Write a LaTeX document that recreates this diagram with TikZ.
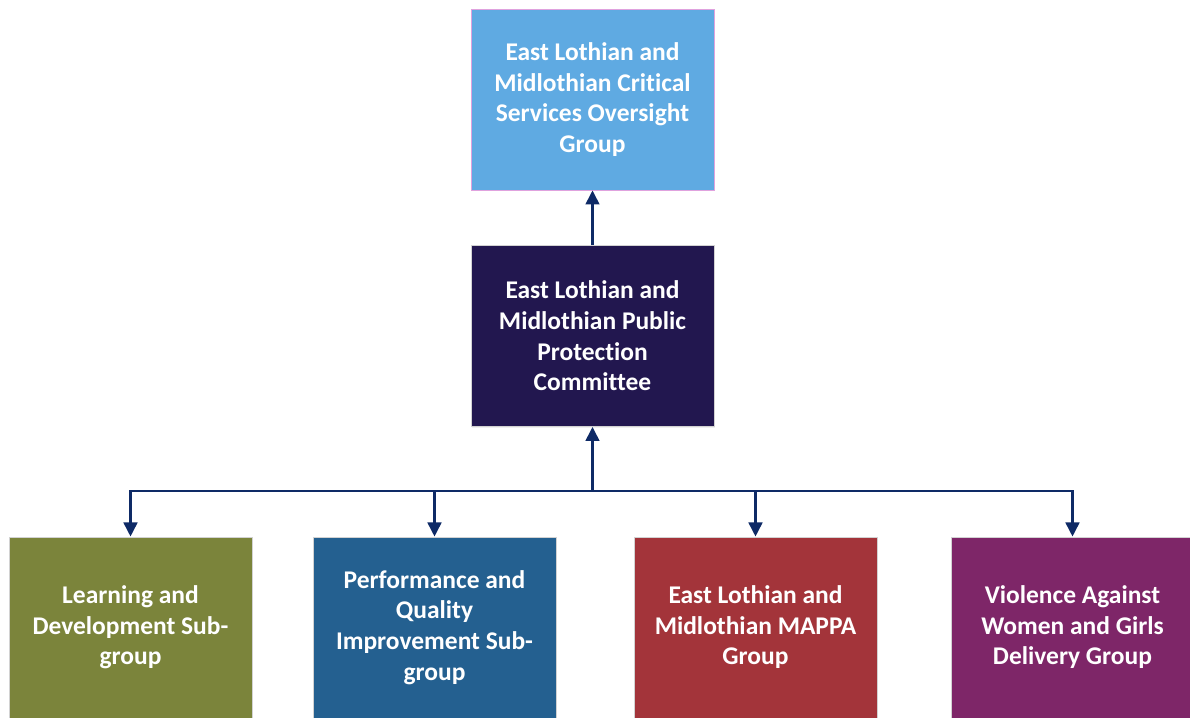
\documentclass[tikz,border=0pt]{standalone}
\usepackage{fontspec}
\setmainfont{Carlito}[Ligatures=NoCommon]
\usepackage{tikz}
\usetikzlibrary{arrows.meta, positioning, shadows}
\usepackage{xcolor}

\definecolor{skyblue}{HTML}{5FAAE2}
\definecolor{pinkedge}{HTML}{E0A2DE}
\definecolor{deepnavy}{HTML}{22174F}
\definecolor{olive}{HTML}{7B843B}
\definecolor{steelblue}{HTML}{246090}
\definecolor{brickred}{HTML}{A3343A}
\definecolor{plum}{HTML}{7E2668}
\definecolor{linknavy}{HTML}{0E2A66}

\tikzset{
  group/.style={rectangle, minimum width=4.86cm, minimum height=3.62cm,
    inner sep=0pt, align=center, text=white,
    font=\fontsize{14.5}{17.4}\selectfont\bfseries,
    draw=gray!35, line width=0.5pt,
    drop shadow={opacity=0.12, shadow xshift=0.6pt, shadow yshift=-0.8pt}},
  link/.style={draw=linknavy, line width=1.4pt,
    -{Triangle[width=7.8pt, length=8pt]}}
}

\begin{document}
\begin{tikzpicture}

  \useasboundingbox (0,0) rectangle (23.8,14.36);

  % Oversight and committee
  \node[group, fill=skyblue, draw=pinkedge] (oversight) at (11.85,12.37)
    {East Lothian and\\Midlothian Critical\\Services Oversight\\Group};
  \node[group, fill=deepnavy] (ppc) at (11.85,7.64)
    {East Lothian and\\Midlothian Public\\Protection\\Committee};

  \draw[link] (ppc.north) -- (oversight.south);

  % Sub-groups
  \node[group, fill=olive] (ld) at (2.61,1.81)
    {Learning and\\Development Sub-\\group};
  \node[group, fill=steelblue] (pqi) at (8.69,1.81)
    {Performance and\\Quality\\Improvement Sub-\\group};
  \node[group, fill=brickred] (mappa) at (15.11,1.81)
    {East Lothian and\\Midlothian MAPPA\\Group};
  \node[group, fill=plum] (vawg) at (21.45,1.81)
    {Violence Against\\Women and Girls\\Delivery Group};

  % Reporting lines
  \coordinate (bus) at (11.85,4.54);
  \draw[link] (bus) -- (ppc.south);
  \foreach \nm in {ld, pqi, mappa, vawg}{
    \draw[link] (bus) -| (\nm.north);
  }

\end{tikzpicture}
\end{document}
